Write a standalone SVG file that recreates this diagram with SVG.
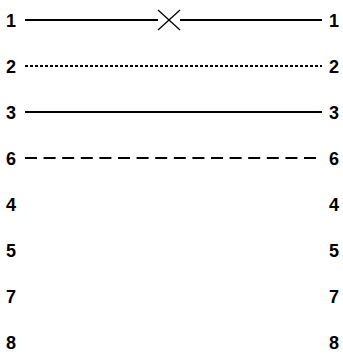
<svg xmlns="http://www.w3.org/2000/svg" width="343" height="357" viewBox="0 0 343 357">
<style>
text{font-family:"Liberation Sans",Arial,sans-serif;font-weight:bold;font-size:18px;fill:#000}
.l{text-anchor:start}
.r{text-anchor:end}
line{stroke:#000;stroke-width:2;fill:none}
.x{stroke-width:1.3}
.dot{stroke-dasharray:3,2}
.dash{stroke-dasharray:12,6.6}
</style>
<rect width="343" height="357" fill="#fff"/>
<g id="connectors">
<line x1="25" y1="20" x2="158" y2="20"/>
<line class="x" x1="158" y1="10" x2="180" y2="30"/>
<line class="x" x1="180" y1="10" x2="158" y2="30"/>
<line x1="180" y1="20" x2="322" y2="20"/>
<line class="dot" x1="25" y1="66" x2="322" y2="66"/>
<line x1="25" y1="112" x2="322" y2="112"/>
<line class="dash" x1="25" y1="158" x2="322" y2="158"/>
</g>
<g id="n1"><text class="l" x="6" y="26.5">1</text><text class="r" x="339" y="26.5">1</text></g>
<g id="n2"><text class="l" x="6" y="72.5">2</text><text class="r" x="339" y="72.5">2</text></g>
<g id="n3"><text class="l" x="6" y="118.5">3</text><text class="r" x="339" y="118.5">3</text></g>
<g id="n6"><text class="l" x="6" y="164.5">6</text><text class="r" x="339" y="164.5">6</text></g>
<g id="n4"><text class="l" x="6" y="211">4</text><text class="r" x="339" y="211">4</text></g>
<g id="n5"><text class="l" x="6" y="257">5</text><text class="r" x="339" y="257">5</text></g>
<g id="n7"><text class="l" x="6" y="303">7</text><text class="r" x="339" y="303">7</text></g>
<g id="n8"><text class="l" x="6" y="349">8</text><text class="r" x="339" y="349">8</text></g>
</svg>
